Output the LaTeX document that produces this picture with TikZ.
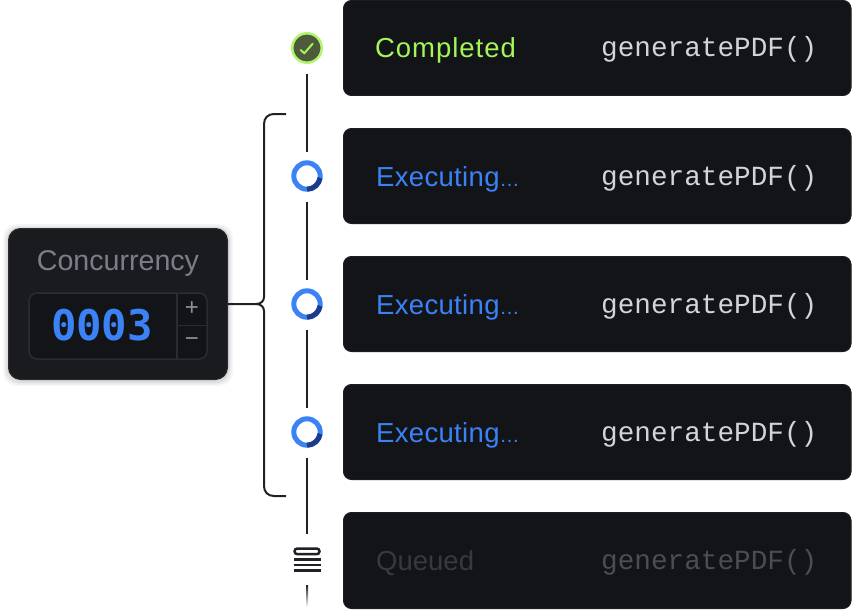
\documentclass[tikz,border=0pt]{standalone}
\usepackage{fontspec}
\setmainfont{Liberation Sans}
\newfontfamily\codefont{Liberation Mono}
\newfontfamily\digitfont{DejaVu Sans Mono}
\definecolor{cardbg}{HTML}{131418}
\definecolor{cardedge}{HTML}{1B1D22}
\definecolor{panelbg}{HTML}{1A1B1F}
\definecolor{paneledge}{HTML}{2A2C31}
\definecolor{wire}{HTML}{1F2126}
\definecolor{bluea}{HTML}{3B82F6}
\definecolor{blueb}{HTML}{1E3A8A}
\definecolor{limea}{HTML}{A3F55A}
\definecolor{limering}{HTML}{B1F56B}
\definecolor{limefill}{HTML}{4D5A3C}
\definecolor{greytxt}{HTML}{7A7E88}
\definecolor{pmcol}{HTML}{8E9096}
\definecolor{codetxt}{HTML}{D4D4D8}
\definecolor{qcode}{HTML}{4C4D52}
\definecolor{qtxt}{HTML}{38393E}
\newcommand{\execlabel}{{\addfontfeature{LetterSpace=1.2}Executing}{\fontsize{20}{22}\selectfont …}}
\tikzset{
  cardbox/.style={draw=cardedge,line width=1pt,fill=cardbg,rounded corners=8pt},
  statustxt/.style={anchor=base west,inner sep=0pt,font=\fontsize{27.5}{30}\selectfont},
  codetext/.style={anchor=base west,inner sep=0pt,font=\codefont\fontsize{27.7}{30}\selectfont,text=codetxt},
  marker/.style={circle,minimum size=32pt,inner sep=0pt,outer sep=0pt},
  wireline/.style={draw=wire,line width=2pt,shorten <=10pt,shorten >=8pt},
  bracketline/.style={draw=wire,line width=2pt},
  ringbase/.style={draw=bluea,line width=5pt},
  ringdark/.style={draw=blueb,line width=5pt},
  pmtxt/.style={inner sep=0pt,text=pmcol,font=\fontsize{24}{26}\selectfont}
}
\begin{document}
\begin{tikzpicture}[x=1pt,y=-1pt]
\useasboundingbox (0,0) rectangle (852,610);
% cards
\foreach \nm/\top/\bot in {c1/0/96,c2/128/224,c3/256/352,c4/384/480,c5/512/609}{
  \draw[cardbox] (343.5,\top+0.5) rectangle (851,\bot-0.5);
}
% panel shadow
\foreach \g/\o in {5/0.03,3.5/0.04,2/0.06}{
  \fill[black,opacity=\o,rounded corners=13pt] (8-\g,228-\g+1) rectangle (228+\g,380+\g+1);
}
\draw[fill=panelbg,draw=paneledge,line width=1pt,rounded corners=12pt] (8.5,228.5) rectangle (227.5,379.5);
\draw[fill=cardbg,draw=paneledge,line width=1.5pt,rounded corners=8pt] (29,293) rectangle (207,359);
\draw[draw=paneledge,line width=1.5pt] (177,293) -- (177,359);
\draw[draw=paneledge,line width=1.5pt] (177,325.5) -- (207,325.5);
\node[inner sep=0pt,anchor=base,text=greytxt,font=\fontsize{28.6}{32}\selectfont] (title) at (118,270) {Concurrency};
\node[inner sep=0pt,anchor=base,text=bluea,font=\digitfont\bfseries\fontsize{42.3}{44}\selectfont] (count) at (102,340) {0003};
\node[pmtxt] (plus) at (192,309) {+};
\node[pmtxt] (minus) at (192,342) {−};
\coordinate (panelout) at (228,304);
% bracket
\coordinate (brtop) at (286,114);
\coordinate (brbot) at (286,496);
\draw[bracketline] (panelout) -- (256,304) .. controls (261,304) and (264,301) .. (264,297)
  -- (264,124) .. controls (264,118) and (268,114) .. (274,114) -- (brtop);
\draw[bracketline] (256,304) .. controls (261,304) and (264,307) .. (264,311)
  -- (264,486) .. controls (264,492) and (268,496) .. (274,496) -- (brbot);
% markers
\node[marker] (s1) at (307,48) {};
\node[marker] (s2) at (307,176) {};
\node[marker] (s3) at (307,304) {};
\node[marker] (s4) at (307,432) {};
\node[marker,minimum size=36pt] (s5) at (307,560) {};
\draw[wireline] (s1) -- (s2);
\draw[wireline] (s2) -- (s3);
\draw[wireline] (s3) -- (s4);
\draw[wireline] (s4) -- (s5);
\coordinate (tail) at (308,607);
\shade[top color=wire,bottom color=white] (306,585) rectangle (tail);
% completed marker
\draw[draw=limering,fill=limefill,line width=2.5pt] (s1) circle (14.7);
\draw[draw=limea,line width=2pt,line cap=round,line join=round] (300.7,50) -- (304.3,53.3) -- (312.7,43.7);
% executing rings
\foreach \s in {s2,s3,s4}{
  \draw[ringbase] (\s) circle (13.2);
  \draw[ringdark] (\s) ++(8:13.2) arc[start angle=8,end angle=90,radius=13.2];
}
% queue icon
\begin{scope}[shift={(s5)}]
\draw[draw=wire,line width=2.5pt,rounded corners=2.8pt] (-12.5,-11.5) rectangle (12.5,-5.8);
\draw[draw=wire,line width=2.5pt] (-13.5,-0.7) -- (13.5,-0.7);
\draw[draw=wire,line width=2.5pt] (-13.5,5) -- (13.5,5);
\draw[draw=wire,line width=2.5pt] (-13.5,10.7) -- (13.5,10.7);
\end{scope}
% card texts
\node[statustxt,text=limea] (t1) at (375,58) {\addfontfeature{LetterSpace=3.5}Completed};
\node[statustxt,text=bluea] (t2) at (376,186) {\execlabel};
\node[statustxt,text=bluea] (t3) at (376,314) {\execlabel};
\node[statustxt,text=bluea] (t4) at (376,442) {\execlabel};
\node[statustxt,text=qtxt] (t5) at (376,570) {Queued};
\node[codetext] (f1) at (601,57) {generatePDF()};
\node[codetext] (f2) at (601,185) {generatePDF()};
\node[codetext] (f3) at (601,313) {generatePDF()};
\node[codetext] (f4) at (601,441) {generatePDF()};
\node[codetext,text=qcode] (f5) at (601,569) {generatePDF()};
\end{tikzpicture}
\end{document}
